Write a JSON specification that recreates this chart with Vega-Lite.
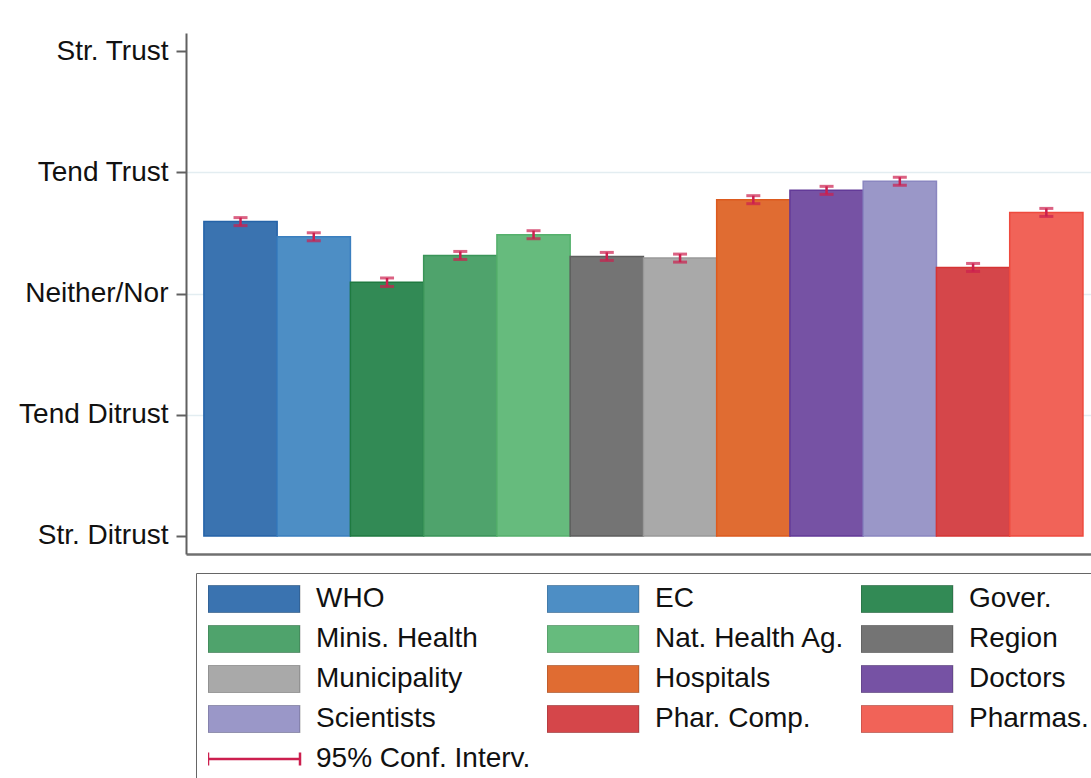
{
  "$schema": "https://vega.github.io/schema/vega-lite/v6.json",
  "autosize": {"type": "none"},
  "width": 905,
  "height": 521,
  "padding": {"left": 186, "top": 33, "right": 0, "bottom": 224},
  "background": "white",
  "config": {"view": {"stroke": null}, "font": "Liberation Sans"},
  "data": {"values": [
    {"org": "WHO", "mean": 3.593, "lo": 3.560, "hi": 3.626},
    {"org": "EC", "mean": 3.468, "lo": 3.435, "hi": 3.501},
    {"org": "Gover.", "mean": 3.093, "lo": 3.058, "hi": 3.128},
    {"org": "Minis. Health", "mean": 3.314, "lo": 3.281, "hi": 3.347},
    {"org": "Nat. Health Ag.", "mean": 3.485, "lo": 3.452, "hi": 3.518},
    {"org": "Region", "mean": 3.306, "lo": 3.273, "hi": 3.339},
    {"org": "Municipality", "mean": 3.292, "lo": 3.259, "hi": 3.325},
    {"org": "Hospitals", "mean": 3.774, "lo": 3.741, "hi": 3.807},
    {"org": "Doctors", "mean": 3.851, "lo": 3.818, "hi": 3.884},
    {"org": "Scientists", "mean": 3.926, "lo": 3.893, "hi": 3.959},
    {"org": "Phar. Comp.", "mean": 3.215, "lo": 3.182, "hi": 3.248},
    {"org": "Pharmas.", "mean": 3.669, "lo": 3.636, "hi": 3.702}
  ]},
  "encoding": {
    "x": {
      "field": "org", "type": "nominal",
      "scale": {
        "domain": ["WHO", "EC", "Gover.", "Minis. Health", "Nat. Health Ag.", "Region", "Municipality", "Hospitals", "Doctors", "Scientists", "Phar. Comp.", "Pharmas."],
        "paddingInner": 0, "paddingOuter": 0.177, "align": 0.69
      },
      "axis": {"title": null, "labels": false, "ticks": false, "domain": true, "domainColor": "#707070", "domainWidth": 2.5, "grid": false}
    }
  },
  "layer": [
    {
      "mark": {"type": "bar", "strokeWidth": 1.5, "opacity": 1},
      "encoding": {
        "y": {
          "field": "mean", "type": "quantitative",
          "scale": {"domain": [0.851, 5.149], "nice": false, "zero": false},
          "axis": {
            "title": null, "values": [1, 2, 3, 4, 5],
            "labelExpr": "datum.value == 5 ? 'Str. Trust' : datum.value == 4 ? 'Tend Trust' : datum.value == 3 ? 'Neither/Nor' : datum.value == 2 ? 'Tend Ditrust' : 'Str. Ditrust'",
            "labelFont": "Liberation Sans", "labelFontSize": 28, "labelColor": "#111",
            "labelPadding": 8, "tickSize": 10, "tickWidth": 2, "tickColor": "#606060",
            "domainColor": "#606060", "domainWidth": 2,
            "grid": true, "gridWidth": 1.5,
            "gridColor": {"condition": {"test": "datum.value == 1 || datum.value == 5", "value": "transparent"}, "value": "#e3edf1"}
          }
        },
        "y2": {"datum": 1},
        "color": {
          "field": "org", "type": "nominal",
          "scale": {
            "domain": ["WHO", "EC", "Gover.", "Minis. Health", "Nat. Health Ag.", "Region", "Municipality", "Hospitals", "Doctors", "Scientists", "Phar. Comp.", "Pharmas.", "95% Conf. Interv."],
            "range": ["#3a73b0", "#4d8ec5", "#328a55", "#4fa36c", "#66bb7d", "#747474", "#a9a9a9", "#e06c32", "#7652a4", "#9a97c8", "#d5464a", "#f16358", "#cc1f4e"]
          },
          "legend": {
            "orient": "none", "direction": "horizontal", "legendX": 10, "legendY": 540, "columns": 3, "title": null,
            "symbolType": "M-1,-0.3H1V0.3H-1Z", "symbolSize": 8464,
            "clipHeight": 28, "rowPadding": 12, "columnPadding": 16, "labelOffset": 48, "symbolOffset": 32,
            "labelFont": "Liberation Sans", "labelFontSize": 28, "labelColor": "#111", "labelLimit": 400,
            "strokeColor": "#666", "padding": 12, "symbolOpacity": 1,
            "encode": {"symbols": {"update": {
              "shape": {"signal": "datum.value === '95% Conf. Interv.' ? 'M-1,-0.14V0.14M-1,0H1M1,-0.14V0.14' : 'M-1,-0.3H1V0.3H-1Z'"},
              "stroke": {"signal": "datum.value === '95% Conf. Interv.' ? '#cc1f4e' : 'rgba(0,0,0,0.18)'"},
              "strokeWidth": {"signal": "datum.value === '95% Conf. Interv.' ? 2.5 : 1.5"}
            }}}
          }
        },
        "stroke": {
          "field": "org", "type": "nominal",
          "scale": {
            "domain": ["WHO", "EC", "Gover.", "Minis. Health", "Nat. Health Ag.", "Region", "Municipality", "Hospitals", "Doctors", "Scientists", "Phar. Comp.", "Pharmas."],
            "range": ["#2563a8", "#3a7fbf", "#1f7a40", "#3a9458", "#55b06c", "#5e5e5e", "#999999", "#dc5a1e", "#633a98", "#8a86c0", "#d53434", "#ee4a3e"]
          },
          "legend": null
        }
      }
    },
    {
      "mark": {"type": "errorbar", "color": "#cc1f4e", "thickness": 2, "ticks": {"size": 14, "thickness": 3, "color": "#cc1f4e"}, "rule": {"strokeWidth": 2.5, "color": "#cc1f4e"}},
      "encoding": {
        "y": {"field": "lo", "type": "quantitative"},
        "y2": {"field": "hi"}
      }
    }
  ]
}
